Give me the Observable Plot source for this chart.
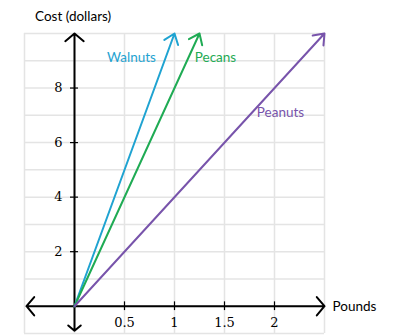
<!DOCTYPE html>
<html><head><meta charset="utf-8">
<script src="https://cdn.jsdelivr.net/npm/d3@7"></script>
<script src="https://cdn.jsdelivr.net/npm/@observablehq/plot@0.6"></script>
<style>body{margin:0;background:#fff}#c{position:relative;width:406px;height:336px}</style>
</head><body><div id="c"></div>
<script>
const nuts = ["Walnuts", "Pecans", "Peanuts"];
const pricePerPound = [10, 8, 4];
const endPounds = [1, 1.25, 2.5];
const colors = ["#1fa3d1", "#1fab54", "#7854ab"];
const labelPos = [[0.57, 9.1], [1.41, 9.1], [2.06, 7.1]];
const xTicks = [0.5, 1, 1.5, 2];
const xTickLabels = ["0.5", "1", "1.5", "2"];
const yTicks = [2, 4, 6, 8];
const xGrid = [-0.5, 0, 0.5, 1, 1.5, 2, 2.5];
const yGrid = [-1, 0, 1, 2, 3, 4, 5, 6, 7, 8, 9, 10];

const lines = nuts.map((n, i) => ({name: n, x2: endPounds[i], y2: endPounds[i] * pricePerPound[i], color: colors[i], lx: labelPos[i][0], ly: labelPos[i][1]}));
const axisArrows = [
  {x1: 0, y1: 0, x2: 2.5, y2: 0},
  {x1: 0, y1: 0, x2: -0.48, y2: 0},
  {x1: 0, y1: 0, x2: 0, y2: 10},
  {x1: 0, y1: 0, x2: 0, y2: -0.9}
];
const serif = "'DejaVu Serif', 'Liberation Serif', serif";

const chart = Plot.plot({
  width: 406, height: 336,
  marginLeft: 24, marginRight: 82, marginTop: 33, marginBottom: 3,
  x: {domain: [-0.5, 2.5], axis: null},
  y: {domain: [-1, 10], axis: null},
  style: {fontFamily: "Lato, sans-serif", background: "#fff"},
  marks: [
    Plot.ruleX(xGrid, {x: d => d, stroke: "#e4e4e4", strokeWidth: 1.5}),
    Plot.ruleY(yGrid, {y: d => d, stroke: "#e4e4e4", strokeWidth: 1.5}),
    Plot.arrow(axisArrows, {x1: "x1", y1: "y1", x2: "x2", y2: "y2", stroke: "#000", strokeWidth: 2, headLength: 9, headAngle: 100}),
    Plot.ruleX(xTicks, {x: d => d, y1: -0.16, y2: 0.16, stroke: "#000", strokeWidth: 1.2}),
    Plot.ruleY(yTicks, {y: d => d, x1: -0.04, x2: 0.04, stroke: "#000", strokeWidth: 1.2}),
    Plot.text(xTicks, {x: d => d, y: 0, text: (d, i) => xTickLabels[i], dy: 17, fontFamily: serif, fontSize: 13, fill: "#000"}),
    Plot.text(yTicks, {x: 0, y: d => d, text: d => String(d), dx: -12, textAnchor: "end", fontFamily: serif, fontSize: 13, fill: "#000"}),
    Plot.arrow(lines, {x1: 0, y1: 0, x2: "x2", y2: "y2", stroke: "color", strokeWidth: 2, headLength: 9, headAngle: 75}),
    Plot.text(lines, {x: "lx", y: "ly", text: "name", fill: "color", fontSize: 13.5}),
    Plot.text(["Pounds"], {x: 2.5, y: 0, text: d => d, dx: 8, textAnchor: "start", fontSize: 13.5, fill: "#000"})
  ]
});
chart.style.position = "absolute";
chart.style.left = "0"; chart.style.top = "0";
const c = document.getElementById("c");
c.appendChild(chart);
const t = document.createElement("div");
t.textContent = "Cost (dollars)";
t.style.cssText = "position:absolute;left:35px;top:8px;font-family:Lato,sans-serif;font-size:13.5px;color:#000";
c.appendChild(t);
</script></body></html>
